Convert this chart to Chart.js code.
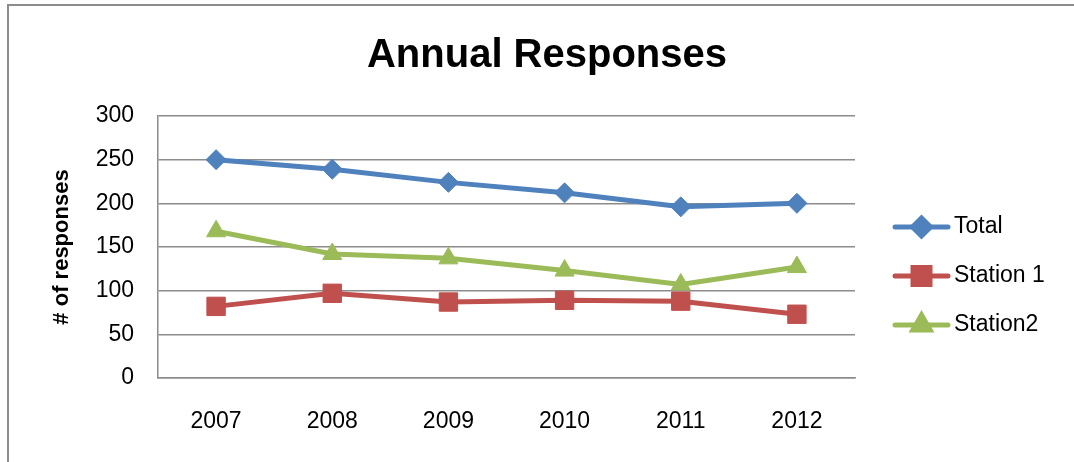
<!DOCTYPE html>
<html>
<head>
<meta charset="utf-8">
<title>Annual Responses</title>
<script src="https://cdn.jsdelivr.net/npm/chart.js@4.4.1/dist/chart.umd.min.js"></script>
<style>
  html, body { margin: 0; padding: 0; background: #fff; overflow: hidden; }
  #frame { position: absolute; left: 7px; top: 4px; width: 1120px; height: 520px; border: 2px solid #8c8c8c; box-sizing: border-box; }
  #chart { position: absolute; left: 0; top: 0; }
</style>
</head>
<body>
<div id="frame"></div>
<canvas id="chart" width="1094" height="462"></canvas>
<script>
const years = ['2007', '2008', '2009', '2010', '2011', '2012'];
const total = [250, 239, 224, 212, 196, 200];
const station1 = [82, 97, 87, 89, 88, 73];
const station2 = [168, 142, 137, 123, 107, 127];
const yMin = 0;
const yMax = 300;
const yStep = 50;

const FONT = "'Liberation Sans', Arial, sans-serif";
const gridColor = '#8c8c8c';

// legend drawn as line + marker, placed in the space kept free by the right-hand axis
const lineLegend = {
  id: 'lineLegend',
  afterDraw(chart, args, opts) {
    const ctx = chart.ctx;
    const box = chart.scales.legendSpace;
    const midY = (chart.chartArea.top + chart.chartArea.bottom) / 2 + opts.shift;
    const n = chart.data.datasets.length;
    chart.data.datasets.forEach((ds, i) => {
      const x = box.left + opts.inset;
      const y = midY + (i - (n - 1) / 2) * opts.gap;
      ctx.save();
      ctx.strokeStyle = ds.borderColor;
      ctx.lineWidth = ds.borderWidth;
      ctx.lineCap = 'round';
      ctx.beginPath();
      ctx.moveTo(x, y);
      ctx.lineTo(x + opts.lineLength, y);
      ctx.stroke();
      ctx.fillStyle = ds.backgroundColor;
      ctx.strokeStyle = ds.borderColor;
      Chart.helpers.drawPoint(ctx, {
        pointStyle: ds.pointStyle,
        radius: ds.pointRadius - 1,
        borderWidth: 1,
        rotation: 0
      }, x + opts.lineLength / 2, y);
      ctx.fillStyle = '#000';
      ctx.font = opts.font;
      ctx.textBaseline = 'middle';
      ctx.textAlign = 'left';
      ctx.fillText(ds.label, x + opts.lineLength + opts.textGap, y);
      ctx.restore();
    });
  }
};

function series(label, data, color, style, radius) {
  return {
    label: label,
    data: data,
    borderColor: color,
    backgroundColor: color,
    borderWidth: 5,
    pointStyle: style,
    pointRadius: radius,
    pointHoverRadius: radius,
    pointBorderWidth: 1,
    tension: 0
  };
}

new Chart(document.getElementById('chart'), {
  type: 'line',
  data: {
    labels: years,
    datasets: [
      series('Total', total, '#4F81BD', 'rectRot', 10),
      series('Station 1', station1, '#C0504D', 'rect', 13),
      series('Station2', station2, '#9BBB59', 'triangle', 11)
    ]
  },
  options: {
    responsive: false,
    animation: false,
    layout: { padding: 0 },
    plugins: {
      legend: { display: false },
      tooltip: { enabled: false },
      title: {
        display: true,
        text: 'Annual Responses',
        color: '#000',
        font: { family: FONT, size: 40, weight: 'bold', lineHeight: 1.2 },
        padding: { top: 32, bottom: 36 }
      },
      lineLegend: {
        inset: 40,
        lineLength: 53,
        textGap: 6,
        gap: 49,
        shift: 29,
        font: '23px ' + FONT
      }
    },
    scales: {
      x: {
        offset: true,
        grid: { display: false, drawTicks: false },
        border: { display: true, color: gridColor, width: 1.5 },
        ticks: { color: '#000', padding: 30, font: { family: FONT, size: 23 } },
        afterFit(scale) { scale.height = 84; }
      },
      y: {
        min: yMin,
        max: yMax,
        ticks: { stepSize: yStep, color: '#000', padding: 24, font: { family: FONT, size: 23 } },
        grid: { color: gridColor, lineWidth: 1.5, drawTicks: false },
        border: { display: true, color: gridColor, width: 1.5 },
        title: {
          display: true,
          text: '# of responses',
          color: '#000',
          font: { family: FONT, size: 22, weight: 'bold', lineHeight: 1.2 },
          padding: { top: 49, bottom: 0 }
        },
        afterFit(scale) { scale.width = 158; }
      },
      legendSpace: {
        type: 'linear',
        position: 'right',
        display: true,
        grid: { display: false, drawTicks: false },
        border: { display: false },
        ticks: { display: false },
        afterFit(scale) { scale.width = 239; }
      }
    }
  },
  plugins: [lineLegend]
});
</script>
</body>
</html>
